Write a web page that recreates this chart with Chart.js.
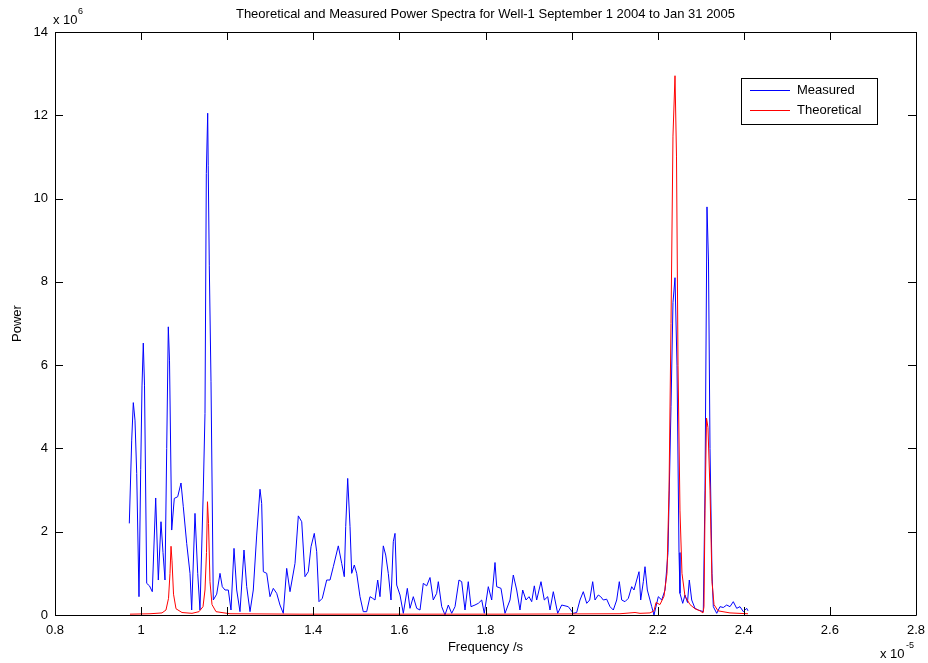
<!DOCTYPE html>
<html>
<head>
<meta charset="utf-8">
<script src="https://cdn.jsdelivr.net/npm/chart.js@4.4.0/dist/chart.umd.min.js"></script>
<style>
  body { margin: 0; background: #fff; }
</style>
</head>
<body>
<canvas id="spectra" width="928" height="663"></canvas>
<script>
// frequencies in units of 1e-5, power in units of 1e6
const measuredFreq = [
  0.9726, 0.9782, 0.9819, 0.9858, 0.9898, 0.9951, 0.9991, 1.0021, 1.0051, 1.0079,
  1.0130, 1.0195, 1.0260, 1.0339, 1.0400, 1.0462, 1.0509, 1.0555, 1.0595, 1.0632,
  1.0660, 1.0711, 1.0771, 1.0850, 1.0927, 1.0980, 1.1059, 1.1136, 1.1175, 1.1252,
  1.1315, 1.1368, 1.1445, 1.1484, 1.1515, 1.1547, 1.1559, 1.1584, 1.1624, 1.1677,
  1.1756, 1.1833, 1.1886, 1.1949, 1.2026, 1.2088, 1.2158, 1.2221, 1.2297, 1.2390,
  1.2453, 1.2530, 1.2606, 1.2685, 1.2762, 1.2801, 1.2839, 1.2918, 1.2994, 1.3071,
  1.3150, 1.3226, 1.3303, 1.3382, 1.3459, 1.3575, 1.3652, 1.3731, 1.3807, 1.3884,
  1.3947, 1.4023, 1.4079, 1.4132, 1.4209, 1.4311, 1.4388, 1.4465, 1.4581, 1.4660,
  1.4720, 1.4753, 1.4799, 1.4853, 1.4892, 1.4952, 1.5008, 1.5085, 1.5161, 1.5240,
  1.5317, 1.5380, 1.5433, 1.5496, 1.5549, 1.5626, 1.5682, 1.5742, 1.5805, 1.5858,
  1.5898, 1.5937, 1.6014, 1.6091, 1.6184, 1.6246, 1.6323, 1.6402, 1.6479, 1.6555,
  1.6634, 1.6711, 1.6787, 1.6866, 1.6904, 1.6983, 1.7059, 1.7136, 1.7215, 1.7292,
  1.7384, 1.7447, 1.7524, 1.7600, 1.7663, 1.7756, 1.7833, 1.7912, 1.7972, 1.8065,
  1.8144, 1.8221, 1.8260, 1.8360, 1.8453, 1.8569, 1.8646, 1.8725, 1.8801, 1.8864,
  1.8941, 1.9011, 1.9073, 1.9134, 1.9189, 1.9289, 1.9366, 1.9445, 1.9498, 1.9575,
  1.9677, 1.9770, 1.9847, 1.9923, 2.0040, 2.0118, 2.0195, 2.0272, 2.0351, 2.0420,
  2.0490, 2.0544, 2.0620, 2.0676, 2.0737, 2.0815, 2.0892, 2.0969, 2.1048, 2.1108,
  2.1164, 2.1240, 2.1317, 2.1396, 2.1449, 2.1512, 2.1566, 2.1605, 2.1666, 2.1705,
  2.1759, 2.1821, 2.1861, 2.1914, 2.2014, 2.2093, 2.2170, 2.2239, 2.2309, 2.2355,
  2.2402, 2.2448, 2.2495, 2.2518, 2.2581, 2.2634, 2.2692, 2.2734, 2.2790, 2.2866,
  2.2943, 2.3059, 2.3099, 2.3145, 2.3180, 2.3215, 2.3261, 2.3292, 2.3371, 2.3447,
  2.3524, 2.3603, 2.3679, 2.3756, 2.3835, 2.3912, 2.3989, 2.4067, 2.4098
];
const measuredPower = [
  2.2, 4.2, 5.1, 4.68, 3.4, 0.44, 3.5, 5.5, 6.53, 5.52,
  0.76, 0.7, 0.56, 2.81, 0.84, 2.24, 1.5, 0.84, 4.0, 6.92,
  6.12, 2.04, 2.8, 2.84, 3.17, 2.6, 1.72, 1.0, 0.12, 2.44,
  1.0, 0.12, 3.0, 4.84, 10.6, 12.05, 10.8, 8.4, 5.6, 0.36,
  0.5, 1.0, 0.68, 0.6, 0.6, 0.12, 1.6, 0.6, 0.08, 1.56,
  0.68, 0.08, 0.6, 1.92, 3.02, 2.68, 1.04, 1.0, 0.44, 0.64,
  0.52, 0.24, 0.04, 1.12, 0.56, 1.24, 2.38, 2.24, 0.92, 1.04,
  1.64, 1.96, 1.52, 0.32, 0.4, 0.84, 0.84, 1.16, 1.66, 1.24,
  0.92, 2.12, 3.28, 2.12, 1.0, 1.2, 1.0, 0.44, 0.08, 0.08,
  0.44, 0.4, 0.36, 0.84, 0.44, 1.66, 1.44, 1.0, 0.36, 1.76,
  1.96, 0.72, 0.48, 0.04, 0.64, 0.16, 0.44, 0.16, 0.12, 0.76,
  0.7, 0.9, 0.36, 0.52, 0.8, 0.2, 0.0, 0.24, 0.04, 0.2,
  0.84, 0.8, 0.12, 0.8, 0.2, 0.24, 0.28, 0.36, 0.04, 0.68,
  0.36, 1.26, 0.68, 0.64, 0.04, 0.36, 0.96, 0.6, 0.12, 0.6,
  0.36, 0.44, 0.32, 0.7, 0.36, 0.8, 0.36, 0.44, 0.12, 0.56,
  0.04, 0.24, 0.22, 0.2, 0.04, 0.06, 0.36, 0.56, 0.28, 0.36,
  0.8, 0.36, 0.48, 0.44, 0.36, 0.38, 0.2, 0.12, 0.36, 0.8,
  0.36, 0.32, 0.4, 0.68, 0.6, 0.84, 1.04, 0.36, 0.8, 1.16,
  0.6, 0.36, 0.2, 0.0, 0.44, 0.36, 0.6, 1.5, 5.0, 7.5,
  8.1, 6.0, 1.5, 0.52, 0.28, 0.48, 0.3, 0.84, 0.36, 0.16,
  0.12, 0.08, 3.0, 9.8, 8.5, 4.0, 1.0, 0.2, 0.04, 0.2,
  0.18, 0.24, 0.2, 0.32, 0.16, 0.2, 0.08, 0.16, 0.1
];
const theoryFreq = [
  0.9742, 1.0207, 1.0486, 1.0578, 1.0637, 1.0671, 1.0695, 1.0718, 1.0753, 1.0811,
  1.0950, 1.1182, 1.1345, 1.1438, 1.1484, 1.1519, 1.1542, 1.1566, 1.1600, 1.1647,
  1.1740, 1.2065, 1.3691, 1.8337, 2.1124, 2.1473, 2.1589, 2.1821, 2.1914, 2.1961,
  2.2053, 2.2146, 2.2216, 2.2263, 2.2309, 2.2355, 2.2402, 2.2437, 2.2472, 2.2518,
  2.2564, 2.2634, 2.2750, 2.2866, 2.2983, 2.3052, 2.3075, 2.3099, 2.3134, 2.3168,
  2.3215, 2.3261, 2.3308, 2.3401, 2.3679, 2.4098
];
const theoryPower = [
  0.02, 0.03, 0.05, 0.12, 0.4, 1.0, 1.65, 1.3, 0.5, 0.15,
  0.06, 0.04, 0.08, 0.2, 0.6, 1.5, 2.72, 2.2, 0.8, 0.25,
  0.08, 0.03, 0.02, 0.02, 0.03, 0.06, 0.04, 0.05, 0.1, 0.3,
  0.25, 0.45, 1.0, 3.0, 7.0, 11.5, 12.95, 11.0, 6.0, 2.5,
  1.0, 0.45, 0.25, 0.15, 0.1, 0.05, 0.2, 2.5, 4.73, 4.5,
  3.0, 0.8, 0.25, 0.1, 0.05, 0.03
];
const seriesNames = ['Measured', 'Theoretical'];
const seriesColors = ['#0000ff', '#ff0000'];
const xTicks = [0.8, 1, 1.2, 1.4, 1.6, 1.8, 2, 2.2, 2.4, 2.6, 2.8];
const yTicks = [0, 2, 4, 6, 8, 10, 12, 14];
const titleText = 'Theoretical and Measured Power Spectra for Well-1 September 1 2004 to Jan 31 2005';

const FONT = 'Liberation Sans, Arial, Helvetica, sans-serif';

function toPoints(xs, ys) {
  return xs.map((x, i) => ({ x: x, y: ys[i] }));
}

// box, inward ticks, title, exponent labels and legend, matlab style
const matlabFrame = {
  id: 'matlabFrame',
  afterDraw(chart) {
    const ctx = chart.ctx;
    const a = chart.chartArea;
    const xs = chart.scales.x, ys = chart.scales.y;
    const tl = 8;
    ctx.save();
    ctx.strokeStyle = '#000';
    ctx.lineWidth = 1;
    ctx.beginPath();
    ctx.rect(Math.round(a.left) + 0.5, Math.round(a.top) + 0.5,
             Math.round(a.right - a.left), Math.round(a.bottom - a.top));
    xTicks.forEach(v => {
      const px = Math.round(xs.getPixelForValue(v)) + 0.5;
      ctx.moveTo(px, a.bottom); ctx.lineTo(px, a.bottom - tl);
      ctx.moveTo(px, a.top); ctx.lineTo(px, a.top + tl);
    });
    yTicks.forEach(v => {
      const py = Math.round(ys.getPixelForValue(v)) + 0.5;
      ctx.moveTo(a.left, py); ctx.lineTo(a.left + tl, py);
      ctx.moveTo(a.right, py); ctx.lineTo(a.right - tl, py);
    });
    ctx.stroke();

    ctx.fillStyle = '#000';
    ctx.textBaseline = 'middle';
    ctx.textAlign = 'center';
    ctx.font = '13px ' + FONT;
    ctx.fillText(titleText, (a.left + a.right) / 2, 14);

    // exponent labels
    ctx.textAlign = 'left';
    ctx.font = '13px ' + FONT;
    ctx.fillText('x 10', a.left - 2, 20);
    ctx.font = '9px ' + FONT;
    ctx.fillText('6', a.left + 23, 12);
    ctx.font = '13px ' + FONT;
    ctx.fillText('x 10', a.right - 36, 654);
    ctx.font = '9px ' + FONT;
    ctx.fillText('-5', a.right - 10, 646);

    // legend
    const lx = 741, ly = 78, lw = 136, lh = 46;
    ctx.fillStyle = '#fff';
    ctx.fillRect(lx, ly, lw, lh);
    ctx.strokeStyle = '#000';
    ctx.strokeRect(lx + 0.5, ly + 0.5, lw, lh);
    chart.data.datasets.forEach((ds, i) => {
      const y = ly + 12 + i * 20;
      ctx.strokeStyle = ds.borderColor;
      ctx.beginPath();
      ctx.moveTo(lx + 9, y + 0.5); ctx.lineTo(lx + 49, y + 0.5);
      ctx.stroke();
      ctx.fillStyle = '#000';
      ctx.font = '13px ' + FONT;
      ctx.textAlign = 'left';
      ctx.fillText(ds.label, lx + 56, y);
    });
    ctx.restore();
  }
};

new Chart(document.getElementById('spectra'), {
  type: 'line',
  data: {
    datasets: [
      {
        label: seriesNames[0],
        data: toPoints(measuredFreq, measuredPower),
        borderColor: seriesColors[0],
        borderWidth: 1,
        pointRadius: 0,
        tension: 0,
        order: 2
      },
      {
        label: seriesNames[1],
        data: toPoints(theoryFreq, theoryPower),
        borderColor: seriesColors[1],
        borderWidth: 1,
        pointRadius: 0,
        tension: 0,
        order: 1
      }
    ]
  },
  options: {
    responsive: false,
    animation: false,
    layout: { padding: { top: 32, right: 12, left: 0, bottom: 0 } },
    plugins: {
      legend: { display: false },
      title: { display: false },
      tooltip: { enabled: false }
    },
    scales: {
      x: {
        type: 'linear',
        min: 0.8,
        max: 2.8,
        afterBuildTicks: s => { s.ticks = xTicks.map(v => ({ value: v })); },
        afterFit: s => { s.height = 48; s.paddingLeft = 0; s.paddingRight = 0; },
        grid: { display: false, drawTicks: false },
        border: { display: false },
        ticks: {
          color: '#000',
          padding: 8,
          maxRotation: 0,
          autoSkip: false,
          font: { size: 13, family: FONT },
          callback: v => String(v)
        },
        title: {
          display: true,
          text: 'Frequency /s',
          color: '#000',
          padding: { top: 0, bottom: 8 },
          font: { size: 13, family: FONT }
        }
      },
      y: {
        type: 'linear',
        min: 0,
        max: 14,
        afterBuildTicks: s => { s.ticks = yTicks.map(v => ({ value: v })); },
        afterFit: s => { s.width = 55; s.paddingTop = 0; s.paddingBottom = 0; },
        grid: { display: false, drawTicks: false },
        border: { display: false },
        ticks: {
          color: '#000',
          padding: 7,
          autoSkip: false,
          font: { size: 13, family: FONT },
          callback: v => String(v)
        },
        title: {
          display: true,
          text: 'Power',
          color: '#000',
          padding: { top: 10, bottom: 0 },
          font: { size: 13, family: FONT }
        }
      }
    }
  },
  plugins: [matlabFrame]
});
</script>
</body>
</html>
